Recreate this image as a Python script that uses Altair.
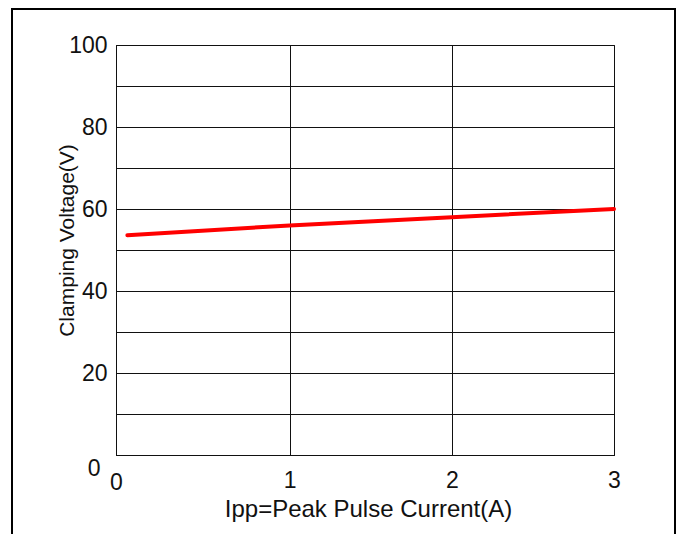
import altair as alt
import pandas as pd

# Data
current = [0.0, 1.0, 2.0, 3.0]
voltage = [53.6, 56.0, 58.0, 60.0]
x_ticks = [-0.07, 1, 2, 3]   # first tick sits on the left frame edge and reads "0"
y_grid = [0, 10, 20, 30, 40, 50, 60, 70, 80, 90, 100]

df = pd.DataFrame({"I": current, "V": voltage})

W, H = 498, 410
FONT = "Liberation Sans"
LFS = 23
C = "#111111"

base = alt.Chart(df)

line = base.mark_line(color="#ff0000", strokeWidth=4, strokeCap="round").encode(
    x=alt.X("I:Q", scale=alt.Scale(domain=[-0.07, 3], nice=False, zero=False),
            axis=alt.Axis(values=x_ticks, grid=True, gridColor=C,
                          gridWidth=1, ticks=False, tickSize=0, domainColor=C,
                          labelExpr="datum.value < 0 ? '0' : format(datum.value, 'd')",
                          labelFont=FONT, labelFontSize=LFS, labelColor=C,
                          labelFlush=False,
                          labelPadding=alt.condition("datum.value < 0", alt.value(16), alt.value(14)),
                          labelBaseline="top",
                          title="Ipp=Peak Pulse Current(A)", titleFont=FONT,
                          titleFontSize=24, titleFontWeight="normal", titleColor=C,
                          titleX=252, titleY=54, titleBaseline="middle")),
    y=alt.Y("V:Q", scale=alt.Scale(domain=[0, 100], nice=False),
            axis=alt.Axis(values=y_grid, grid=True, gridColor=C, gridWidth=1,
                          ticks=False, tickSize=0, domainColor=C,
                          labelFont=FONT, labelFontSize=LFS, labelColor=C,
                          labelExpr="datum.value % 20 == 0 ? datum.label : ''",
                          labelPadding=alt.condition("datum.value == 0", alt.value(16), alt.value(9)),
                          labelBaseline=alt.condition("datum.value == 0", alt.value("top"), alt.value("middle")),
                          labelOffset=alt.condition("datum.value == 0", alt.value(2), alt.value(0)),
                          title="Clamping Voltage(V)", titleFont=FONT, titleFontSize=21,
                          titleFontWeight="normal", titleColor=C,
                          titleX=-49, titleY=195, titleBaseline="middle", titleAngle=-90)),
)

border = alt.Chart(pd.DataFrame({"a": [0]})).mark_rect(
    fill=None, stroke="#000000", strokeWidth=2
).encode(x=alt.value(-104), x2=alt.value(559), y=alt.value(-36), y2=alt.value(520))

chart = alt.layer(line, border).properties(
    width=W, height=H,
    autosize=alt.AutoSizeParams(type="none"),
    padding={"left": 108, "top": 37, "right": 63, "bottom": 79},
).configure_view(stroke=C, strokeWidth=1)

chart.save("out.html", embed_options={"renderer": "svg", "actions": False})
